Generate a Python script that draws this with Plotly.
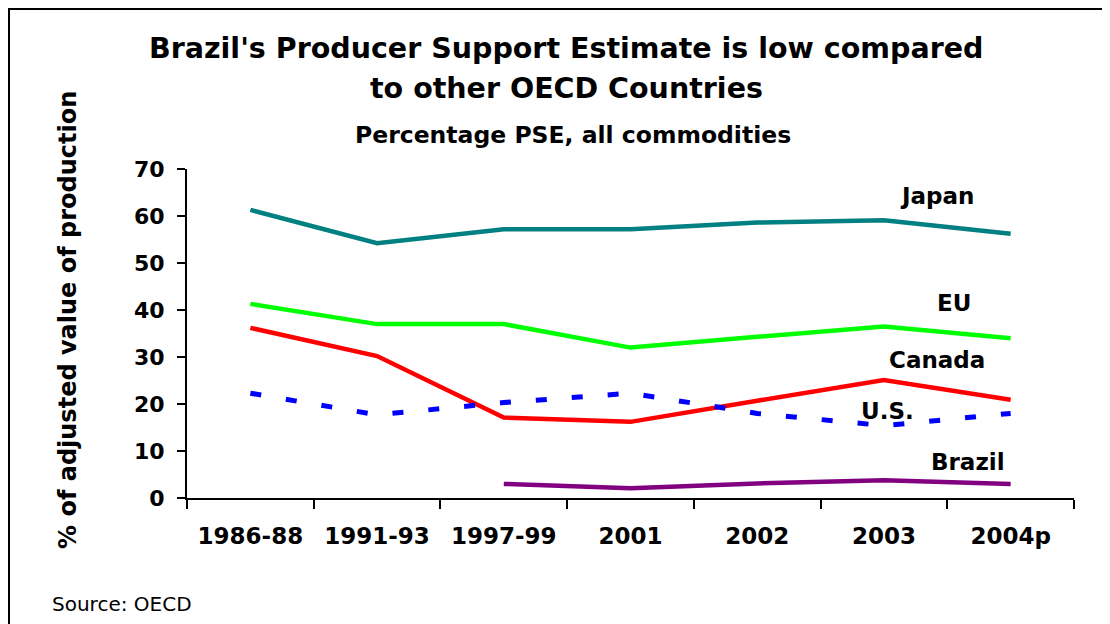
import plotly.graph_objects as go

categories = ["1986-88", "1991-93", "1997-99", "2001", "2002", "2003", "2004p"]
japan = [61.3, 54.2, 57.2, 57.2, 58.6, 59.1, 56.2]
eu = [41.3, 37.0, 37.0, 32.0, 34.3, 36.5, 34.0]
canada = [36.2, 30.2, 17.1, 16.2, 20.7, 25.1, 20.9]
us = [22.3, 17.7, 20.3, 22.3, 18.0, 15.4, 18.0]
brazil = [None, None, 3.0, 2.1, 3.1, 3.8, 3.0]

series = [
    ("Japan", japan, "#008080", "solid", 4.5),
    ("EU", eu, "#00FF00", "solid", 4.5),
    ("Canada", canada, "#FF0000", "solid", 4.5),
    ("U.S.", us, "#0000FF", "11px,25px", 5),
    ("Brazil", brazil, "#800080", "solid", 4.5),
]

FONT = "Verdana, DejaVu Sans, sans-serif"

# page offset of the figure inside the browser window
OFF = 8
# plot area in screen pixels (as seen in the reference)
L, R, T, B = 187, 1074, 169, 498
W, H = R - L, B - T


def px(x):
    return (x - L) / W


def py(y):
    return (B - y) / H


fig = go.Figure()
for name, vals, color, dash, w in series:
    fig.add_trace(go.Scatter(
        x=categories, y=vals, mode="lines", name=name,
        line=dict(color=color, width=w, dash=dash),
        connectgaps=False, showlegend=False,
    ))

labels = [
    ("Japan", 5.42, 64.3),
    ("EU", 5.55, 41.5),
    ("Canada", 5.42, 29.3),
    ("U.S.", 5.03, 18.5),
    ("Brazil", 5.66, 7.7),
]
for text, xv, yv in labels:
    fig.add_annotation(
        x=xv, y=yv, xref="x", yref="y", text=f"<b>{text}</b>",
        showarrow=False, font=dict(family=FONT, size=23, color="black"),
    )

title_lines = [
    ("<b>Brazil's Producer Support Estimate is low compared</b>", 566, 48, 28.5),
    ("<b>to other OECD Countries</b>", 566, 88, 28.5),
    ("<b>Percentage PSE, all commodities</b>", 573, 135, 23.5),
]
for text, cx, cy, size in title_lines:
    fig.add_annotation(
        x=px(cx), y=py(cy), xref="paper", yref="paper", text=text,
        showarrow=False, xanchor="center", yanchor="middle",
        font=dict(family=FONT, size=size, color="black"),
    )

fig.add_annotation(
    x=px(50), y=py(604), xref="paper", yref="paper", text="Source: OECD",
    showarrow=False, xanchor="left", yanchor="middle",
    font=dict(family=FONT, size=20, color="black"),
)

fig.add_annotation(
    x=px(68), y=py(320), xref="paper", yref="paper",
    text="<b>% of adjusted value of production</b>", textangle=-90,
    showarrow=False, xanchor="center", yanchor="middle",
    font=dict(family=FONT, size=24, color="black"),
)

fig.update_layout(
    width=1110, height=624,
    paper_bgcolor="white", plot_bgcolor="white",
    margin=dict(l=L - OFF, r=1110 - R + OFF, t=T - OFF, b=624 - B + OFF, autoexpand=False),
    font=dict(family=FONT, color="black"),
    xaxis=dict(
        type="category", range=[-0.5, 6.5], showgrid=False, automargin=False,
        showline=True, linecolor="black", linewidth=2,
        ticks="outside", tickson="boundaries", ticklen=9, tickwidth=2, tickcolor="black",
        ticklabelstandoff=16,
        tickfont=dict(family=FONT, size=23, color="black"),
        tickprefix="<b>", ticksuffix="</b>",
    ),
    yaxis=dict(
        range=[0, 70], dtick=10, showgrid=False, zeroline=False, automargin=False,
        showline=True, linecolor="black", linewidth=2,
        ticks="outside", ticklen=8, tickwidth=2, tickcolor="black",
        ticklabelstandoff=8,
        tickfont=dict(family=FONT, size=22, color="black"),
        tickprefix="<b>", ticksuffix="</b>",
    ),
    shapes=[dict(type="rect", xref="paper", yref="paper",
                 x0=px(OFF + 1), x1=px(1104), y0=py(640), y1=py(OFF + 1),
                 line=dict(color="black", width=2))],
)

fig.write_html("out.html")
